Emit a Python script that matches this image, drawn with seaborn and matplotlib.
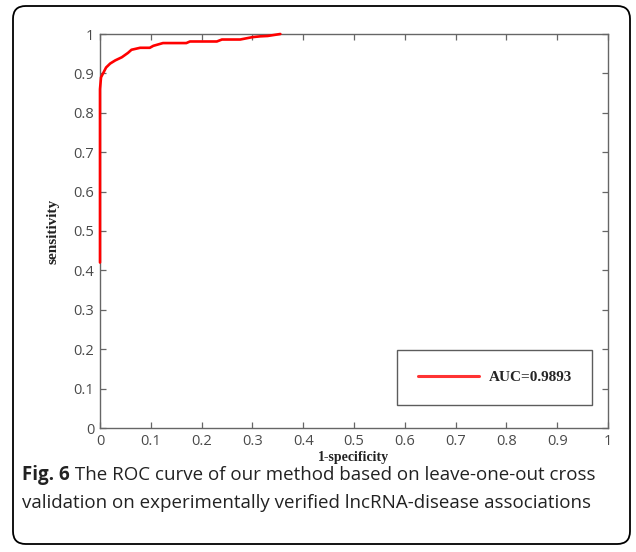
import matplotlib
matplotlib.use("Agg")
import matplotlib.pyplot as plt
import seaborn as sns
import pandas as pd
from matplotlib.patches import FancyBboxPatch

# ROC curve
fpr = [0, 0, 0.002, 0.006, 0.012, 0.02, 0.03, 0.043, 0.055, 0.062, 0.079, 0.098,
       0.105, 0.124, 0.17, 0.177, 0.23, 0.24, 0.276, 0.3, 0.315, 0.33, 0.345, 0.355]
tpr = [0.42, 0.86, 0.89, 0.90, 0.915, 0.925, 0.933, 0.941, 0.952, 0.96, 0.965, 0.965,
       0.970, 0.977, 0.977, 0.981, 0.981, 0.986, 0.986, 0.992, 0.994, 0.995, 0.998, 1.0]
legend_label = "AUC=0.9893"
ticks = [0, 0.1, 0.2, 0.3, 0.4, 0.5, 0.6, 0.7, 0.8, 0.9, 1]
tick_labels = ["0", "0.1", "0.2", "0.3", "0.4", "0.5", "0.6", "0.7", "0.8", "0.9", "1"]
caption_bold = "Fig. 6"
caption_line1 = " The ROC curve of our method based on leave-one-out cross"
caption_line2 = "validation on experimentally verified lncRNA-disease associations"

sns.set_theme(style="white")
plt.rcParams['font.family'] = ['Open Sans', 'DejaVu Sans']

W, H = 636, 552
fig = plt.figure(figsize=(W / 100, H / 100), dpi=100)
fig.patch.set_facecolor("white")

# outer rounded frame
frame = FancyBboxPatch((13 / W, 8 / H), (630 - 13) / W, (546 - 8) / H,
                       boxstyle="round,pad=0,rounding_size=0.02",
                       transform=fig.transFigure, facecolor="none",
                       edgecolor="black", linewidth=1.3, mutation_aspect=W / H)
fig.patches.append(frame)

ax = fig.add_axes([100 / W, (H - 428) / H, 508 / W, 394 / H])
df = pd.DataFrame({"fpr": fpr, "tpr": tpr, "name": legend_label})
sns.lineplot(data=df, x="fpr", y="tpr", hue="name", palette=["#ff0000"],
             sort=False, estimator=None, linewidth=1.9, ax=ax)
for ln in ax.lines:
    ln.set_zorder(3)
    ln.set_clip_on(False)

ax.set_xlim(0, 1)
ax.set_ylim(0, 1)
ax.set_xticks(ticks)
ax.set_yticks(ticks)
ax.set_xticklabels(tick_labels)
ax.set_yticklabels(tick_labels)
for s in ax.spines.values():
    s.set_color("#666666")
    s.set_linewidth(1.0)
ax.tick_params(direction="in", length=4, width=0.9, color="#666666",
               labelsize=10.5, labelcolor="#4a4a4a", top=True, right=True,
               bottom=True, left=True, pad=4)
ax.set_xlabel("1-specificity", fontfamily="Liberation Serif", fontweight="bold",
              fontsize=10, color="#222222", labelpad=2)
ax.set_ylabel("sensitivity", fontfamily="Liberation Serif", fontweight="bold",
              fontsize=11, color="#222222", labelpad=10)

leg = ax.legend(loc="lower right", bbox_to_anchor=(0.969, 0.059), frameon=True,
                fancybox=False, edgecolor="#333333", handlelength=4.0,
                borderpad=1.35, handletextpad=0.6, borderaxespad=0,
                prop={"family": "Liberation Serif", "weight": "bold", "size": 11})
leg.get_frame().set_linewidth(1.0)
for l in leg.get_lines():
    l.set_linewidth(2.2)
    l.set_alpha(0.8)

# caption
cap_size = 13.5
x0 = 22 / W
t1 = fig.text(x0, 1 - 475 / H, caption_bold, fontsize=cap_size, fontweight="bold",
              va="center", ha="left", color="#222222")
fig.canvas.draw()
bb = t1.get_window_extent()
fig.text(bb.x1 / W, 1 - 475 / H, caption_line1, fontsize=cap_size, va="center",
         ha="left", color="#222222")
fig.text(x0, 1 - 503 / H, caption_line2, fontsize=cap_size, va="center",
         ha="left", color="#222222")

fig.savefig("out.png", dpi=100, facecolor="white")
